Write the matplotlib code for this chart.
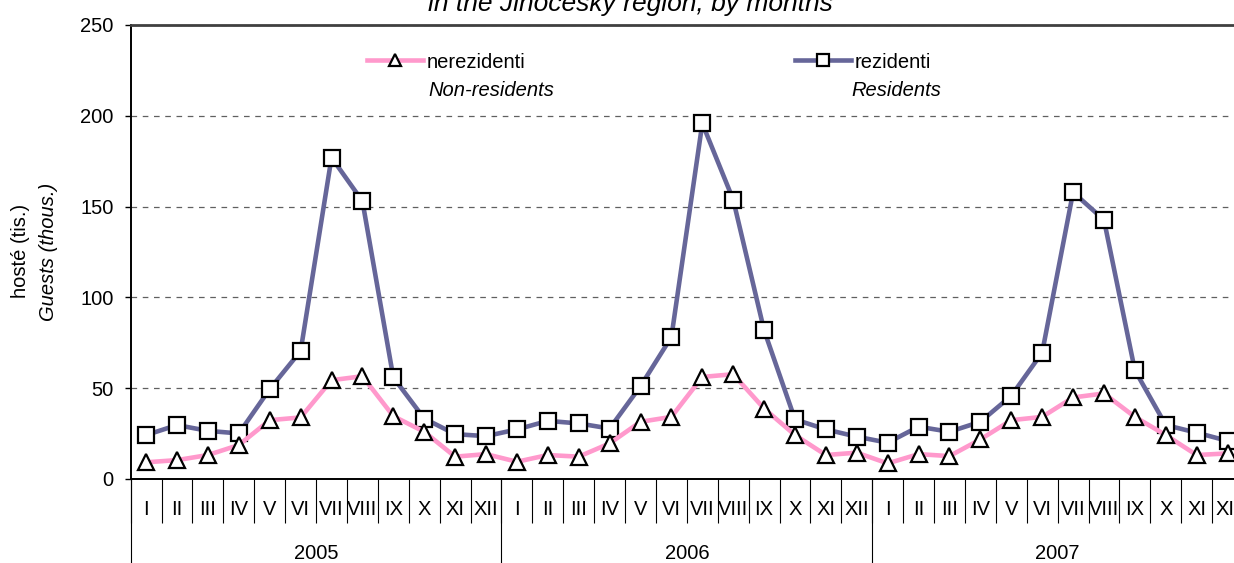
import matplotlib
matplotlib.use("Agg")
import matplotlib.pyplot as plt
import matplotlib.transforms as mtransforms
from matplotlib.lines import Line2D

plt.rcParams['font.family'] = ['Liberation Sans', 'DejaVu Sans']

# ---- data ----
months = ['I', 'II', 'III', 'IV', 'V', 'VI', 'VII', 'VIII', 'IX', 'X', 'XI', 'XII']
years = ['2005', '2006', '2007']
residents = [24.2, 29.7, 26.5, 25.1, 49.5, 70.5, 177.0, 153.0, 55.9, 33.3, 24.7, 23.6,
             27.3, 32.0, 30.6, 27.8, 51.1, 78.2, 195.8, 153.8, 81.9, 32.8, 27.3, 23.3,
             20.0, 28.8, 26.0, 31.5, 45.8, 69.6, 157.9, 142.7, 59.9, 29.7, 25.5, 21.0]
nonresidents = [9.2, 10.4, 13.2, 18.7, 32.4, 33.9, 54.4, 56.6, 34.6, 26.0, 12.3, 13.7,
                9.5, 13.2, 12.3, 19.6, 31.5, 34.2, 56.2, 57.7, 38.8, 24.2, 13.2, 14.5,
                8.6, 13.7, 12.6, 21.8, 32.4, 34.2, 44.9, 47.1, 34.2, 24.2, 13.2, 14.1]
yticks = [0, 50, 100, 150, 200, 250]

FS = 14.5
W, H = 1234, 563
fig = plt.figure(figsize=(W / 100, H / 100), dpi=100)
ax_left, ax_right, ax_top, ax_bot = 130.7, 1243.0, 25.0, 479.0
ax = fig.add_axes([ax_left / W, 1 - ax_bot / H, (ax_right - ax_left) / W, (ax_bot - ax_top) / H])

labels = months * len(years)
n = len(labels)
xs = [i + 0.5 for i in range(n)]

res_col = '#666699'
non_col = '#FF99CC'
ax.plot(xs, residents, color=res_col, lw=3.3, marker='s', ms=11, mfc='white',
        mec='black', mew=1.6, zorder=3, clip_on=False)
ax.plot(xs, nonresidents, color=non_col, lw=3.3, marker='^', ms=11, mfc='white',
        mec='black', mew=1.6, zorder=3, clip_on=False)

ax.set_xlim(0, n)
ax.set_ylim(0, 250)
ax.set_yticks(yticks)
ax.tick_params(axis='y', direction='out', length=4.3, width=1, pad=8, labelsize=FS)
ax.yaxis.grid(True, linestyle=(0, (4.5, 4.5)), color='#606060', lw=0.9)
ax.set_axisbelow(True)

# category axis
ax.set_xticks(xs)
ax.set_xticklabels(labels, fontsize=FS)
ax.tick_params(axis='x', which='major', length=0, pad=15)
ax.set_xticks(range(n + 1), minor=True)
ax.tick_params(axis='x', which='minor', length=32, width=0.8, color='black')

trans = mtransforms.blended_transform_factory(ax.transData, ax.transAxes)
for k in range(len(years) + 1):
    ax.add_line(Line2D([k * 12, k * 12], [0, -0.25], transform=trans, color='black',
                       lw=0.8, clip_on=False))
for k, yr in enumerate(years):
    ax.text(k * 12 + 6, -0.163, yr, transform=trans, ha='center', va='center', fontsize=FS)

for s in ['left', 'bottom']:
    ax.spines[s].set_color('black')
    ax.spines[s].set_linewidth(1.4)
ax.spines['top'].set_color('#404040')
ax.spines['top'].set_linewidth(2)
ax.spines['right'].set_visible(False)

# y label
fig.text(21 / W, 1 - 251 / H, 'hosté (tis.)', rotation=90, ha='center', va='center', fontsize=FS)
fig.text(48 / W, 1 - 252 / H, 'Guests (thous.)', rotation=90, ha='center', va='center',
         fontsize=FS, style='italic')

# title (top line cut off in reference)
fig.text(630 / W, 1 - 11 / H, 'in the Jihocesky region, by months', ha='center',
         va='baseline', fontsize=19, style='italic')

# legends
def add_leg(line, label, x0, y0):
    fs_px = FS * 100 / 72
    leg = fig.legend([line], [label], loc='center left',
                     bbox_to_anchor=(x0 / W, 1 - y0 / H), bbox_transform=fig.transFigure,
                     frameon=False, fontsize=FS, borderpad=0, borderaxespad=0,
                     handlelength=56 / fs_px, handletextpad=4 / fs_px, markerscale=0.75)
    return leg

lines = ax.get_lines()
leg1 = add_leg(lines[1], 'nerezidenti', 367, 62)
leg2 = add_leg(lines[0], 'rezidenti', 795, 62)
fig.text(428 / W, 1 - 90 / H, 'Non-residents', ha='left', va='center', fontsize=FS, style='italic')
fig.text(851 / W, 1 - 90 / H, 'Residents', ha='left', va='center', fontsize=FS, style='italic')

fig.savefig('out.png', dpi=100)
